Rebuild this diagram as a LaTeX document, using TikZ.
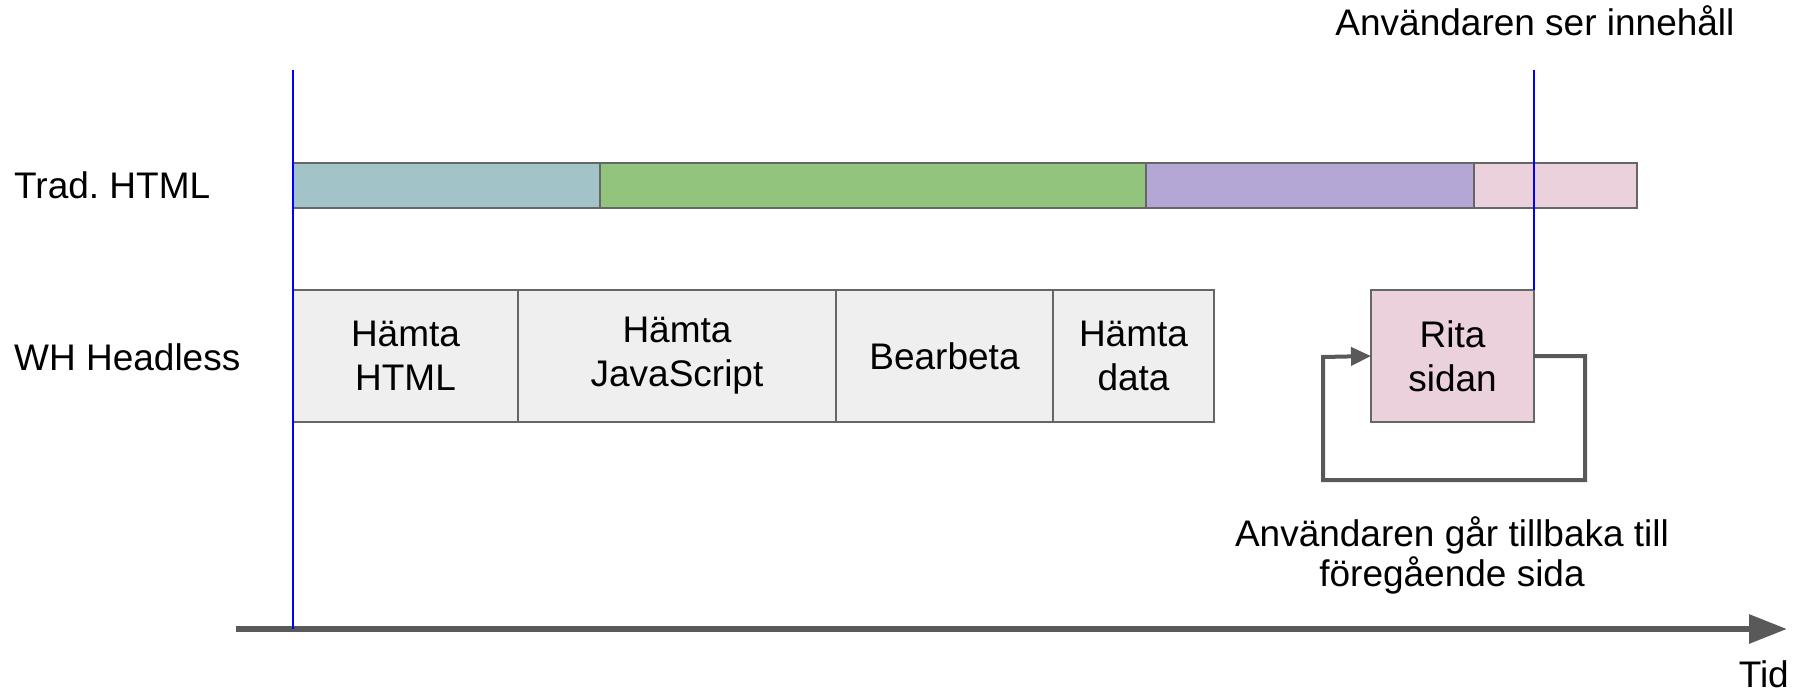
\documentclass[tikz,border=0pt]{standalone}
\usepackage{fontspec}
\setmainfont{Liberation Sans}
\usepackage{xcolor}
\usepackage{tikz}
\usetikzlibrary{positioning,calc,arrows.meta}

\definecolor{edgegray}{HTML}{666666}
\definecolor{arrowgray}{HTML}{595959}
\definecolor{fetchblue}{HTML}{A2C4C9}
\definecolor{scriptgreen}{HTML}{93C47D}
\definecolor{workpurple}{HTML}{B4A7D6}
\definecolor{paintpink}{HTML}{EAD1DC}
\definecolor{stepgray}{HTML}{EFEFEF}

\begin{document}
\begin{tikzpicture}[x=1pt, y=-1pt,
    font=\fontsize{37}{44}\selectfont,
    rowlabel/.style={inner sep=0pt, anchor=base west},
    bar/.style={draw=edgegray, line width=2pt, inner sep=0pt, outer sep=0pt, minimum height=45pt, anchor=north west},
    phase/.style={draw=edgegray, fill=stepgray, line width=2pt, inner sep=0pt, outer sep=0pt, minimum height=132pt, anchor=north west, align=center},
    marker/.style={blue, line width=2pt},
    flow/.style={arrowgray, line width=4pt, -{Triangle[length=20pt, width=18pt]}},
    timeline/.style={arrowgray, line width=6pt, -{Triangle[length=38pt, width=28pt]}}]
    \useasboundingbox (0,0) rectangle (1810,695);

    % Row labels
    \node[rowlabel] (tradlabel) at (14,199) {Trad.\ HTML};
    \node[rowlabel] (headlesslabel) at (14,370) {WH Headless};

    % Traditional page load
    \foreach \name/\x/\w/\col in {trad1/293/307/fetchblue, trad2/600/546/scriptgreen,
        trad3/1146/328/workpurple, trad4/1474/163/paintpink} {
        \node[bar, fill=\col, minimum width=\w pt] (\name) at (\x,163) {};
    }

    % Headless steps
    \node[phase, minimum width=225pt] (fetchhtml) at (293,290) {Hämta\\HTML};
    \node[phase, minimum width=318pt] (fetchjs) at (518,290) {Hämta\\JavaScript};
    \node[phase, minimum width=217pt] (process) at (836,290) {Bearbeta};
    \node[phase, minimum width=161pt] (fetchdata) at (1053,290) {Hämta\\data};
    \node[phase, fill=paintpink, minimum width=163pt] (paint) at (1371,290) {Rita\\sidan};

    % Back navigation loop
    \coordinate (loopright) at (1585,480);
    \coordinate (loopleft) at (1323,357);
    \draw[flow] (paint.east) -| (loopright) -| (loopleft) -- (paint.west);
    \node[inner sep=0pt, anchor=north, align=center, font=\fontsize{37}{40}\selectfont] (backnote) at (1452,516)
        {Användaren går tillbaka till\\föregående sida};

    % Time axis
    \coordinate (axisstart) at (236,629);
    \coordinate (axisend) at (1787,629);
    \draw[timeline] (axisstart) -- (axisend);
    \node[inner sep=0pt, anchor=base east] (time) at (1789,687) {Tid};

    % Markers
    \coordinate (start) at (293,70);
    \coordinate (seentop) at (1534,70);
    \draw[marker] (start) -- (start |- axisstart);
    \draw[marker] (seentop) -- (paint.north east);
    \node[inner sep=0pt, anchor=base] (seen) at (1535,36) {Användaren ser innehåll};

\end{tikzpicture}
\end{document}
